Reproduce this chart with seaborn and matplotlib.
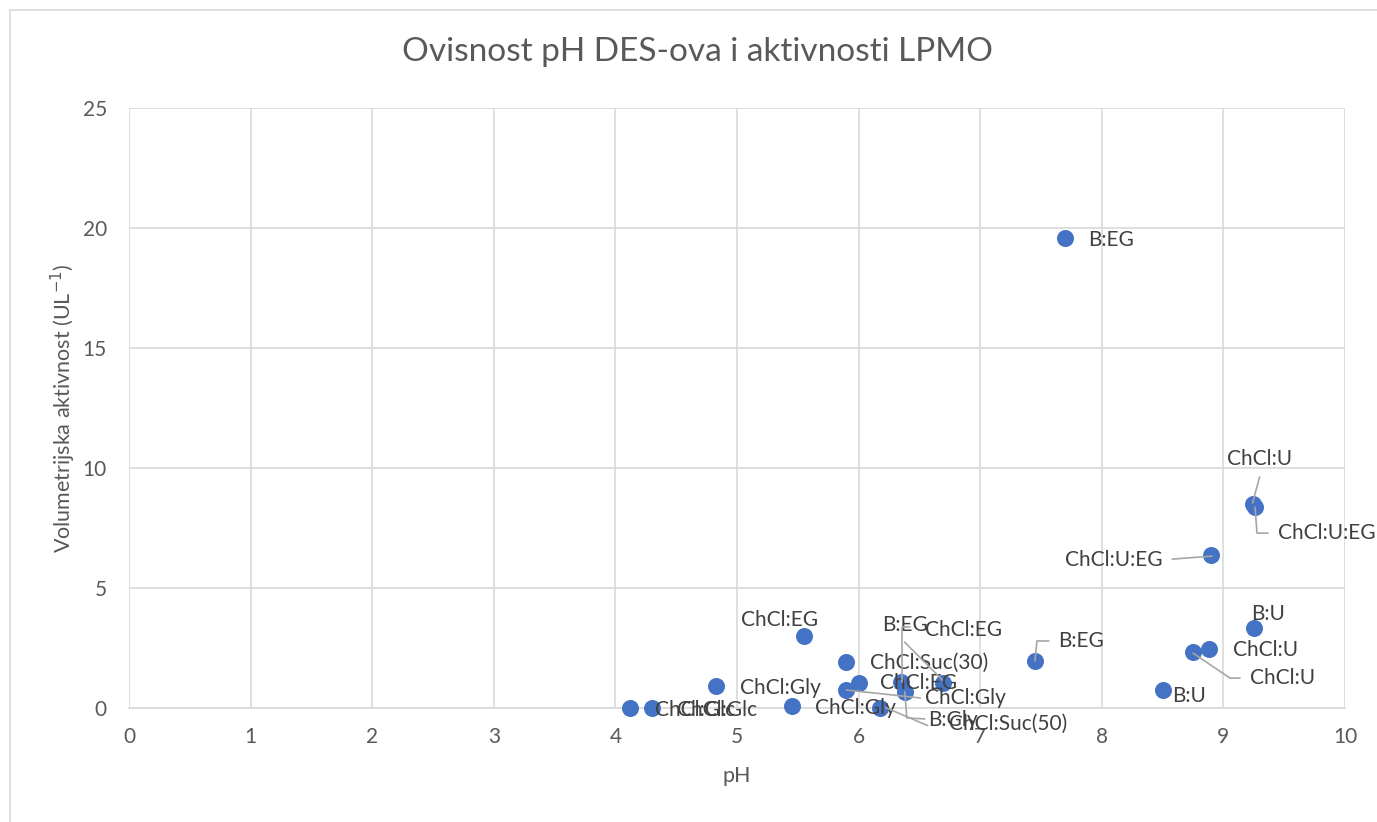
import matplotlib
matplotlib.use("Agg")
import matplotlib.pyplot as plt
import seaborn as sns
import pandas as pd
import numpy as np
from matplotlib.lines import Line2D
from matplotlib.transforms import IdentityTransform
from matplotlib.patches import Rectangle

# ---- data ----
ph = [4.12, 4.30, 4.83, 5.45, 5.55, 5.90, 6.00, 5.90, 6.38, 6.18, 6.35, 6.69,
      7.45, 7.70, 8.50, 8.75, 8.88, 8.90, 9.25, 9.24, 9.26]
activity = [0.02, 0.02, 0.92, 0.08, 3.00, 1.92, 1.04, 0.75, 0.67, 0.02, 1.08, 1.04,
            1.96, 19.60, 0.75, 2.33, 2.46, 6.37, 3.33, 8.50, 8.37]
labels = ["ChCl:Glc", "ChCl:Glc", "ChCl:Gly", "ChCl:Gly", "ChCl:EG", "ChCl:Suc(30)",
          "ChCl:EG", "ChCl:Gly", "B:Gly", "ChCl:Suc(50)", "B:EG", "ChCl:EG",
          "B:EG", "B:EG", "B:U", "ChCl:U", "ChCl:U", "ChCl:U:EG", "B:U", "ChCl:U", "ChCl:U:EG"]
x_ticks = [0, 1, 2, 3, 4, 5, 6, 7, 8, 9, 10]
y_ticks = [0, 5, 10, 15, 20, 25]
title = "Ovisnost pH DES-ova i aktivnosti LPMO"
x_label = "pH"
y_label = "Volumetrijska aktivnost (UL$^{-1}$)"

# ---- label placement (pixel offsets from point, image y-down): dx, dy, ha, leader path ----
label_style = [
    (25, 2, "left", None),
    (25, 2, "left", None),
    (24, 2, "left", None),
    (23, 2, "left", None),
    (-24, -16, "center", None),
    (24, 1, "left", None),
    (21, 0, "left", None),
    (79, 8, "left", [(0, 0), (74, 8)]),
    (23, 28, "left", [(0, 0), (2, 26), (20, 27)]),
    (69, 16, "left", [(5, 0), (47, 18)]),
    (-19, -57, "left", [(1, 0), (1, -55), (9, -55)]),
    (-18, -53, "left", [(-38, -41), (0, -3)]),
    (23, -20, "left", [(0, 0), (2, -20), (14, -20)]),
    (23, 2, "left", None),
    (10, 6, "left", None),
    (57, 26, "left", [(0, 1), (37, 26), (47, 26)]),
    (24, 1, "left", None),
    (-49, 5, "right", [(-39, 4), (1, 1)]),
    (14, -14, "center", None),
    (7, -45, "center", [(7, -27), (0, -1)]),
    (23, 26, "left", [(0, 0), (2, 26), (13, 26)]),
]

sns.set_theme(style="white")
plt.rcParams["font.family"] = ["Lato", "DejaVu Sans"]

W, H = 1377, 822
fig = plt.figure(figsize=(W / 100, H / 100), dpi=100)
fig.patch.set_facecolor("white")
ax = fig.add_axes([129 / W, 1 - 708 / H, (1345 - 129) / W, (708 - 108) / H])

df = pd.DataFrame({"pH": ph, "act": activity, "label": labels})
sns.scatterplot(data=df, x="pH", y="act", ax=ax, color="#4472C4", s=150,
                edgecolor="#4472C4", linewidth=0, zorder=5, clip_on=False)

ax.set_xlim(0, 10)
ax.set_ylim(0, 25)
ax.set_xticks(x_ticks)
ax.set_yticks(y_ticks)
ax.set_xticklabels([str(t) for t in x_ticks])
ax.set_yticklabels([str(t) for t in y_ticks])
ax.tick_params(axis="both", colors="#595959", labelsize=15, length=0)
ax.tick_params(axis="x", pad=14)
ax.tick_params(axis="y", pad=16)
ax.grid(True, color="#D9D9D9", linewidth=1.2)
ax.set_axisbelow(True)
for s in ["top", "right", "left"]:
    ax.spines[s].set_visible(False)
ax.spines["bottom"].set_color("#D9D9D9")
ax.spines["bottom"].set_linewidth(1.2)

ax.set_xlabel(x_label, fontsize=15.5, color="#595959", labelpad=13)
ax.set_ylabel(y_label, fontsize=15.5, color="#595959", labelpad=3)
fig.text(698 / W, 1 - 52 / H, title, ha="center", va="center", fontsize=24, color="#595959")

# chart border
fig.add_artist(Rectangle((10 / W, -0.1), 1.2, 1 - 10 / H + 0.1, transform=fig.transFigure,
                         fill=False, edgecolor="#D9D9D9", linewidth=1.2))

fig.canvas.draw()
for x, y, lab, (dx, dy, ha, path) in zip(ph, activity, labels, label_style):
    ax.annotate(lab, xy=(x, y), xytext=(dx * 0.72, -dy * 0.72), textcoords="offset points",
                ha=ha, va="center", fontsize=15, color="#404040", zorder=6,
                annotation_clip=False)
    if path:
        bx, by = ax.transData.transform((x, y))
        xs = [bx + p[0] for p in path]
        ys = [by - p[1] for p in path]
        fig.add_artist(Line2D(xs, ys, transform=IdentityTransform(), color="#A6A6A6",
                              linewidth=1.2, zorder=4))

fig.savefig("out.png", dpi=100, facecolor="white")
